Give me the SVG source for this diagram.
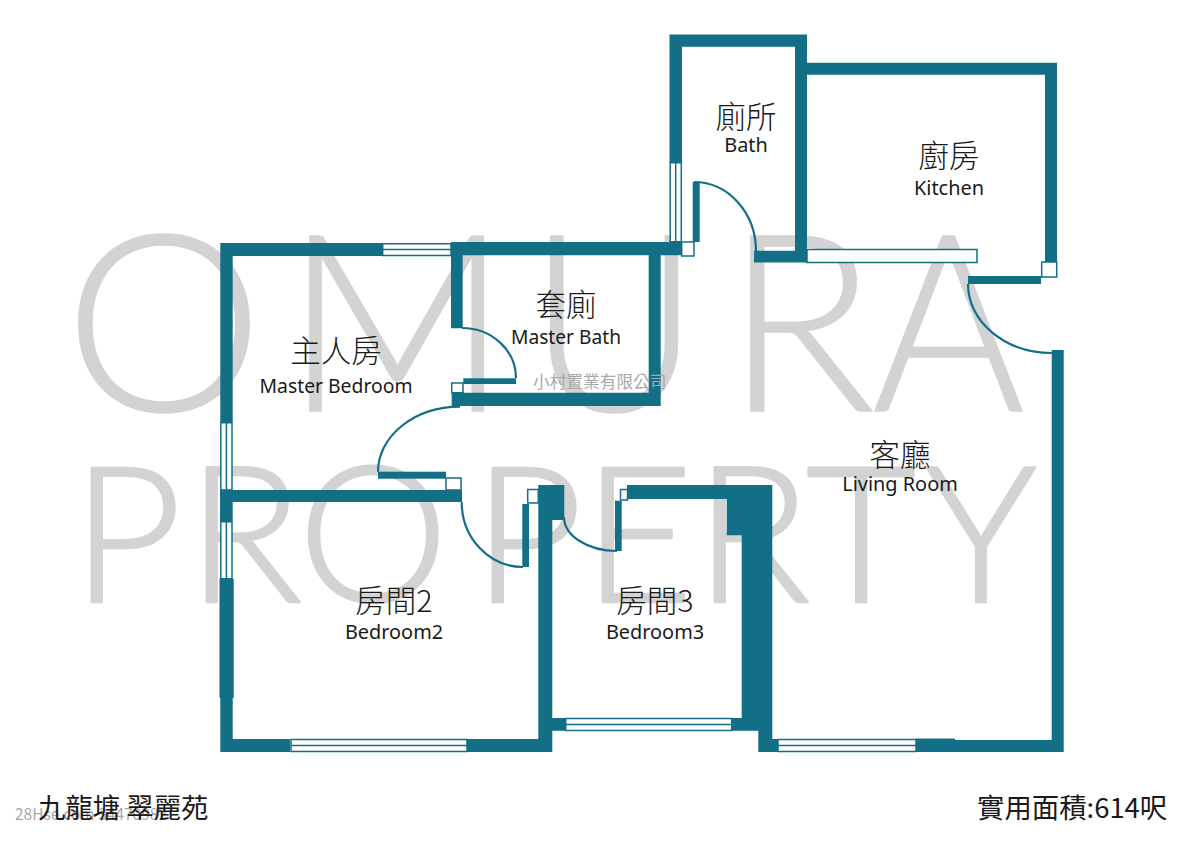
<svg xmlns="http://www.w3.org/2000/svg" width="1200" height="848" viewBox="0 0 1200 848">
<style>
.w{fill:#126f86}
.g{fill:#fff;stroke:#126f86;stroke-width:1.5}
.d{fill:none;stroke:#126f86;stroke-width:2.200}
.wm{font-family:"Lato","Open Sans",sans-serif;font-weight:300;fill:#d3d3d3;stroke:#d3d3d3;stroke-linejoin:round}
.a{font-size:248px;stroke-width:1.500}
.b{font-size:190px;stroke-width:2.500}
.zh{font-family:"Noto Sans CJK TC",sans-serif;font-weight:200;font-size:30.500px;fill:#1a1a1a;text-anchor:middle}
.en{font-family:"Noto Sans","Open Sans",sans-serif;font-size:19.900px;fill:#1a1a1a;text-anchor:middle}
.ft{font-family:"Noto Sans CJK TC",sans-serif;font-size:27.400px;fill:#1a1a1a}
.mk{font-family:"Noto Sans CJK TC",sans-serif;fill:#a8a8a8}
</style>
<rect width="1200" height="848" fill="#fff"/>
<g id="watermark">
<text class="wm a" y="411" x="64" textLength="200" lengthAdjust="spacingAndGlyphs">O</text>
<text class="wm a" y="411" x="284">M</text>
<text class="wm a" y="411" x="528" textLength="172" lengthAdjust="spacingAndGlyphs">U</text>
<text class="wm a" y="411" x="725">R</text>
<text class="wm a" y="411" x="872" textLength="153" lengthAdjust="spacingAndGlyphs">A</text>
<text class="wm b" y="602" x="72">P</text>
<text class="wm b" y="602" x="187">R</text>
<text class="wm b" y="602" x="298">O</text>
<text class="wm b" y="602" x="473">P</text>
<text class="wm b" y="602" x="583">E</text>
<text class="wm b" y="602" x="695">R</text>
<text class="wm b" y="602" x="806">T</text>
<text class="wm b" y="602" x="925" textLength="112" lengthAdjust="spacingAndGlyphs">Y</text>
</g>
<g id="walls">
<path class="w" d="M669.500 34.500H807V62.700H1057V262H1045V74.700H807V262.500H754V250.700H795V46.700H682V162.700H669.500Z"/>
<rect class="w" x="968" y="276" width="73" height="8"/>
<path class="w" d="M1051.700 350H1063.700V752H916V738.500H955V740H1051.700Z"/>
<path class="w" d="M220.300 243H382.700V256H232.700V422.700H220.300Z"/>
<path class="w" d="M451 242H681V255.300H660.700V406H451.700V392.700H648.700V255.300H462.700V328.300H451Z"/>
<rect class="w" x="463.300" y="378.300" width="52.700" height="5.700"/>
<rect class="w" x="378" y="471.700" width="68" height="7"/>
<path class="w" d="M220 490H462V502H232.700V521.700H220Z"/>
<path class="w" d="M219.500 578.700H233.700V698H232.700V739H290V752H220.300V698H219.500Z"/>
<path class="w" d="M467 739H538.300V520V485H564.300V520H552.300V718H565.700V730.700H552.300V752H467Z"/>
<rect class="w" x="522.300" y="504" width="6.700" height="63"/>
<rect class="w" x="615" y="500.700" width="6.700" height="50.300"/>
<path class="w" d="M627 485H772.300V752H758.300V730.700H731.700V718H741.700V535.300H726.700V499H627Z"/>
<rect class="w" x="772" y="739" width="6" height="13"/>
<rect class="w" x="692.700" y="182" width="7" height="60"/>
</g>
<g id="windows">
<path class="g" d="M670.200 162.700H681.300V241.700H670.200ZM675.700 162.700V241.700"/>
<path class="g" d="M382.700 243.700H451V255.500H382.700ZM382.700 249.600H451"/>
<path class="g" d="M220.800 422.700H232V490H220.800ZM226.400 422.700V490"/>
<path class="g" d="M220.800 521.700H232V578.700H220.800ZM226.400 521.700V578.700"/>
<path class="g" d="M291 739.500H467V751.500H291ZM291 745.500H467"/>
<path class="g" d="M565.700 718.500H731.700V730.500H565.700ZM565.700 724.500H731.700"/>
<path class="g" d="M778 739.500H916V751.500H778ZM778 745.500H916"/>
<rect class="g" x="807" y="249.500" width="170" height="13"/>
<rect class="g" x="1041.700" y="262" width="15" height="15"/>
<rect class="g" x="681.700" y="242" width="12.300" height="14"/>
<rect class="g" x="451.700" y="383" width="11.300" height="9.700"/>
<rect class="g" x="446" y="478" width="15" height="12"/>
<rect class="g" x="527.700" y="489.500" width="10.600" height="13.500"/>
<rect class="g" x="620.500" y="489.500" width="7" height="10.500"/>
</g>
<g id="doors">
<path class="d" d="M756 251A62 69 0 0 0 694 182"/>
<path class="d" d="M968 284A84 69 0 0 0 1052 353"/>
<path class="d" d="M462 328A54 50 0 0 1 516 378"/>
<path class="d" d="M460 406.700A82 65 0 0 0 378 471.700"/>
<path class="d" d="M461.700 502A61 65 0 0 0 523 567"/>
<path class="d" d="M564 517A53 34 0 0 0 617 551"/>
</g>
<g id="bath"><text class="zh" x="746" y="128">廁所</text><text class="en" x="746" y="152">Bath</text></g>
<g id="kitchen"><text class="zh" x="949" y="167">廚房</text><text class="en" x="949" y="195">Kitchen</text></g>
<g id="master-bath"><text class="zh" x="566" y="316">套廁</text><text class="en" x="566" y="344" textLength="110" lengthAdjust="spacingAndGlyphs">Master Bath</text></g>
<g id="master-bedroom"><text class="zh" x="336" y="362">主人房</text><text class="en" x="336" y="393" textLength="153" lengthAdjust="spacingAndGlyphs">Master Bedroom</text></g>
<g id="living-room"><text class="zh" x="900" y="466">客廳</text><text class="en" x="900" y="491">Living Room</text></g>
<g id="bedroom2"><text class="zh" x="394" y="612">房間2</text><text class="en" x="394" y="639">Bedroom2</text></g>
<g id="bedroom3"><text class="zh" x="655" y="612">房間3</text><text class="en" x="655" y="639">Bedroom3</text></g>
<g id="footer">
<text class="mk" x="15" y="820" font-size="16" textLength="152" lengthAdjust="spacingAndGlyphs">28Hse.com 34470982</text>
<text class="ft" x="38" y="818">九龍塘 翠麗苑</text>
<text class="ft" x="977" y="818">實用面積:614呎</text>
<text class="mk" x="533" y="388" font-size="16.700">小村置業有限公司</text>
</g>
</svg>
